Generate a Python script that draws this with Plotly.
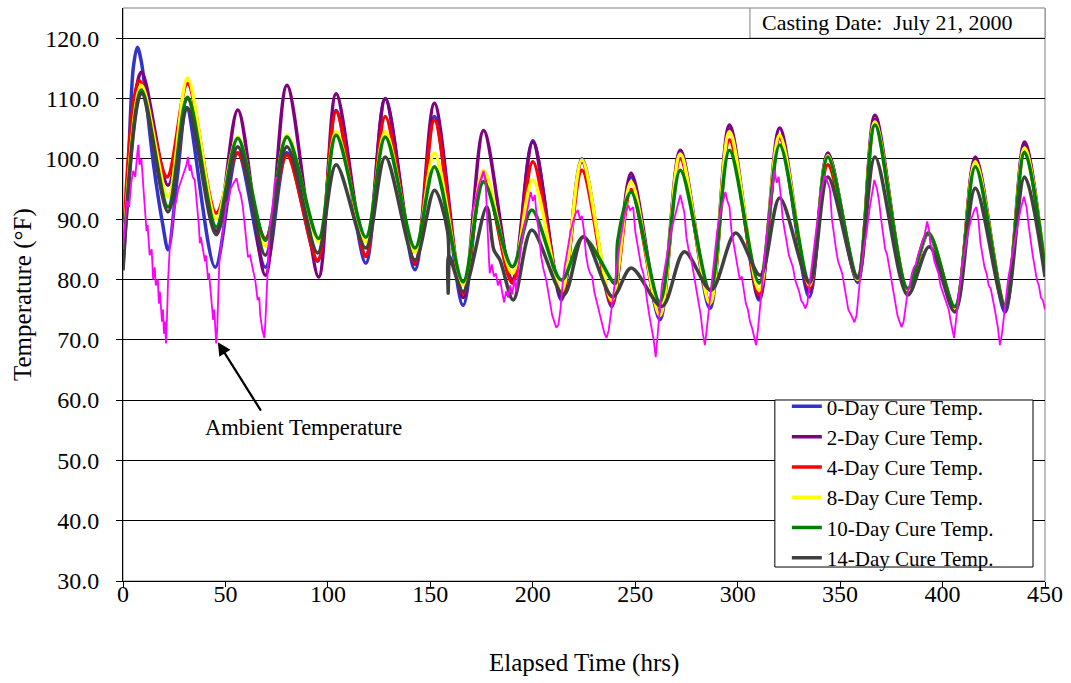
import plotly.graph_objects as go

# ---------------- data ----------------
t_blue = [0, 2.5, 5, 7, 9, 14.8, 19.3, 22, 26.7, 31, 45, 56, 69.5, 80, 95, 104, 118.5, 128, 142.5, 152, 166, 176, 190, 200, 214, 224, 238.5, 248, 262, 272, 286.5, 296, 310.5, 320.5, 335, 344, 358.5, 367, 383, 393, 406, 416, 430.5, 440, 450]
v_blue = [83, 98, 115, 118.5, 116, 99.3, 89.3, 84.9, 97.6, 108.5, 82, 101, 82, 101, 83, 108, 82.7, 110, 81.6, 107, 75.7, 98, 79.5, 103, 76.6, 100, 75.5, 97, 73.3, 101, 75.2, 105, 76.6, 103.5, 77.1, 100.9, 79.5, 106.5, 78, 87.5, 75, 100, 74.6, 102.5, 81]

t_purple = [0, 9, 22, 31.5, 45.5, 56, 69.5, 80, 95.5, 104, 118.5, 128, 142.5, 152, 166, 176, 190, 200, 214, 224, 238.5, 248, 262, 272, 286.5, 296, 310.5, 320.5, 335, 344, 358.5, 367, 383, 393, 406, 416, 430.5, 440, 450]
v_purple = [84, 114.4, 95.6, 110, 88, 108.1, 80.7, 112.2, 80.4, 110.8, 84, 109.9, 82.5, 109.2, 77, 104.7, 80, 102.8, 77, 99.5, 76, 97.6, 74.5, 101.4, 76, 105.6, 77, 105.1, 78, 100.9, 80, 107.2, 78.2, 87.7, 75.2, 100.3, 75.5, 102.8, 81.3]

t_red = [0, 8, 21.5, 31.5, 45.5, 56, 69.5, 80, 95, 104, 118.5, 128, 142.5, 152, 166, 176, 190, 200, 214, 224, 238.5, 248, 262, 272, 286.5, 296, 310.5, 320.5, 335, 344, 358.5, 367, 383, 393, 406, 416, 430.5, 440, 450]
v_red = [85, 113, 97, 112.5, 91, 100.9, 86.8, 100.6, 83.2, 107.8, 83.8, 107, 82.7, 106.4, 77.7, 97.5, 79.4, 99.5, 77.6, 98.1, 76, 94.9, 74, 100, 76, 103.1, 77.5, 103.5, 78.5, 99, 80, 106, 78.2, 87.7, 75.2, 99.5, 75.5, 101.5, 81.5]

t_yellow = [0, 9, 22, 31.5, 45.5, 56, 69.5, 80, 95.5, 104, 118.5, 128, 142.5, 152, 166, 176, 190, 200, 214, 224, 238.5, 248, 262, 272, 286.5, 296, 310.5, 320.5, 335, 344, 358.5, 367, 383, 393, 406, 416, 430.5, 440, 450]
v_yellow = [83, 112.2, 93.7, 113.4, 90, 103.6, 85.5, 103.9, 86.2, 104.5, 86.2, 104.5, 84.5, 100.9, 79.1, 98.1, 81, 96.5, 78, 99.8, 76.5, 96.2, 74, 100.8, 76, 104.5, 78.2, 103.9, 79, 100.5, 80, 106.1, 78.2, 87.7, 75.2, 99.5, 75.5, 101.8, 82]

t_green = [0, 9, 22, 31.5, 45.5, 56, 69.5, 80, 95.5, 104, 118.5, 128, 142.5, 152, 166, 176, 190, 199.5, 214, 224.5, 239.5, 240.5, 241.5, 248, 262, 272, 286.5, 296, 310.5, 320.5, 335, 344, 358.5, 367, 383, 393, 406, 416, 430.5, 440, 450]
v_green = [82, 111.4, 92, 110.2, 88.7, 103.4, 86.5, 103.6, 86.8, 103.9, 87, 103.6, 85.2, 98.7, 79.6, 96.2, 82.1, 91.5, 79.9, 87, 79.4, 79.4, 86.5, 94.5, 76.3, 98.1, 78.2, 101.4, 79.4, 102.3, 79.6, 100.3, 80.5, 105.6, 78.5, 87.7, 75.5, 98.7, 75.8, 101.1, 82]

t_gray = [0, 9, 22, 31.5, 45.5, 56, 69.5, 80, 95, 104, 118.5, 128, 142.5, 152, 158.4, 158.7, 159.0, 166, 177.5, 181, 184, 190.5, 199.5, 215, 224.7, 239, 248, 263, 274, 287, 299, 311, 320.5, 335, 344, 358.5, 367, 383, 393.5, 406, 416, 430.5, 440, 450]
v_gray = [81.5, 110.9, 91.2, 108.4, 87.4, 102, 84, 102, 84.4, 99, 85.2, 100.3, 83.2, 94.8, 88, 77.7, 84, 78, 92, 84.9, 83.2, 76.6, 88.2, 77.4, 87.1, 77.1, 81.9, 75.5, 84.6, 78.2, 87.7, 80.7, 93.5, 79.4, 97, 80.2, 100.3, 77.4, 85.4, 74.6, 95.1, 75.2, 97, 80.4]

# ambient temperature (gap in record between ~75 and ~170 hrs)
t_amb = [0, 1, 2, 3, 4, 5, 6, 7, 7.5, 8, 9, 10, 11, 11.5, 12, 13, 14, 14.7, 15.5, 16, 17, 17.5, 18, 19, 19.5, 20, 20.5, 21, 21.5, 22, 22.8,
         24, 25, 26, 27, 28, 29, 30, 31, 31.7, 32.5, 33, 34, 35, 36, 37, 37.5, 38, 39, 40, 40.5, 41.5, 42, 43, 44, 44.5, 45, 45.5, 46, 47,
         48, 49, 50.5, 51.5, 52.5, 54, 55.4, 56.5, 57.5, 58.5, 59.5, 60.5, 61, 62, 63, 63.5, 64.5, 65.7, 66.5, 67, 68, 69, 69.5, 70.5, 71.5,
         73, 74, 75, 75.5,
         170, 171, 172, 173, 174, 175, 176, 177, 177.5, 178, 178.5, 179, 180, 181, 182, 183, 184, 185, 186, 187, 188, 189, 190, 191, 192,
         193, 194.5, 196, 197.5, 199, 200, 201, 202, 203, 204, 205, 206.5, 207.5, 208.5, 209.5, 210.5, 211.5, 212.5, 213.5, 214.5, 215.5,
         217, 218.5, 220, 221, 222, 223, 224, 225, 226, 227, 228, 229, 230, 231, 232, 233, 234, 235, 236, 237, 238, 239, 240, 241, 242.5,
         244, 245, 246.5, 247.5, 249, 250, 251, 252, 253, 254, 255, 256, 257, 258, 259, 260, 260.5, 261, 262, 263, 264.5, 266, 267.5, 269,
         270.5, 272, 273, 274, 275, 276, 277, 278, 279, 280, 281, 282, 283, 284, 285, 286, 287, 288, 289, 290, 291.5, 293, 294, 295, 296,
         297, 298, 299, 300, 301, 302, 303, 304, 305, 306, 307, 308, 309, 310, 311, 312, 313.5, 315, 316.5, 318, 319, 320, 321, 322, 323,
         324, 325, 326, 327, 328, 329, 330, 331, 332, 333, 334, 335, 336, 337.5, 339, 340.5, 342.5, 344, 345, 346, 347, 348, 349, 350, 351,
         352, 353, 354, 355.5, 357, 358, 359, 360, 361.5, 363, 364.5, 366.7, 368, 369, 370, 371, 372, 373, 374, 375, 376, 377, 378, 379,
         380, 381, 382, 383, 384, 385, 386, 387, 388, 389, 390, 391, 392.5, 393.5, 394, 395, 396, 397, 398, 399, 400, 401, 402, 403, 404,
         405, 405.6, 406.5, 407.5, 408.5, 409.5, 411, 412.5, 414, 415.5, 416.5, 417.5, 418.5, 419.5, 420.5, 421.5, 422.5, 423.5, 424.5,
         425.5, 426.5, 427, 428, 429, 430, 431, 432, 433.5, 435, 436.5, 438, 439.7, 441, 442, 443, 444, 445, 446, 447, 448, 449, 450]
v_amb = [85, 89, 93, 92, 96, 98, 97, 101, 102.3, 99, 100, 95, 91, 88, 89, 84, 85, 80, 82, 79, 80, 76, 78, 73, 75, 71, 73, 69.4, 74, 80, 85,
         89, 92, 93, 95, 96, 97, 98, 99, 100.3, 98, 99, 97, 96.5, 93, 89, 86, 87, 85, 83, 84, 80, 81, 77, 73.3, 75, 71, 69.4, 72, 82.7,
         86, 89, 92.6, 93, 95, 96, 96.8, 95, 94, 92, 89, 85, 83.7, 84, 82, 81.5, 80, 76.6, 77, 74, 71.6, 70.3, 73, 80, 88.2,
         92, 96, 97, None,
         90.5, 92, 93, 95, 96, 97, 98, 96, 92, 86, 84, 81, 82.5, 80.5, 81, 79, 80, 78, 76.2, 78, 77, 79, 77.5, 80, 78,
         82, 86, 89, 92, 94.5, 93, 94, 90, 88, 84, 82, 80, 78, 76, 74, 73, 72, 72.5, 75, 79, 82,
         85, 88, 90, 91, 91.5, 90, 90.5, 88, 84, 82, 81, 80.5, 78, 76.5, 75, 73.8, 72, 71, 70.3, 71.5, 74, 77, 79.4, 82, 86,
         89, 91, 92.3, 91.5, 92, 88, 86, 84, 82, 81, 78, 76, 73.8, 72, 70, 67.1, 69, 72, 76, 79, 82, 85, 88, 90,
         92, 94, 92.5, 91, 87, 85, 84, 82, 80, 78, 76, 74, 71, 69.1, 72, 75, 78, 82, 85, 88, 91, 93, 94.5, 93, 92,
         88, 86, 84, 82, 80, 80.5, 78, 76, 75, 73, 72, 70.5, 69.1, 72, 76, 80, 85, 90, 94, 98.1, 96, 97, 94, 90, 88,
         86, 84, 83, 82, 80, 79, 78, 76.5, 76, 75.2, 76, 79, 82, 86, 90, 94, 97.3, 96, 95, 90, 87, 85, 83, 82, 81,
         79, 77, 75, 74, 72.9, 74, 78, 81, 85, 88, 92, 96.5, 95, 93, 90, 87, 85, 84, 82, 80, 78, 76, 74, 73,
         72.1, 73, 76, 78, 79, 81, 82, 82.5, 84, 85, 86, 87, 89.6, 88, 86, 85, 83, 82, 81, 79, 78, 77, 76, 75, 73,
         71, 70.3, 73, 76, 79, 82, 85, 88, 90, 91.5, 92, 90, 86, 84, 82, 81, 79, 78.5, 77,
         75, 73, 72, 69.1, 71, 74, 77, 80, 83, 86, 89, 91.5, 93.7, 92, 89, 86, 84, 82, 80, 79, 77, 76.5, 75]

series = [
    ("0-Day Cure Temp.", t_blue, v_blue, "#3333CC"),
    ("2-Day Cure Temp.", t_purple, v_purple, "#800080"),
    ("4-Day Cure Temp.", t_red, v_red, "#FF0000"),
    ("8-Day Cure Temp.", t_yellow, v_yellow, "#FFFF00"),
    ("10-Day Cure Temp.", t_green, v_green, "#008000"),
    ("14-Day Cure Temp.", t_gray, v_gray, "#404040"),
]

x_ticks = [0, 50, 100, 150, 200, 250, 300, 350, 400, 450]
y_ticks = [30, 40, 50, 60, 70, 80, 90, 100, 110, 120]

FONT = "Liberation Serif"

fig = go.Figure()
for name, t, v, c in series:
    fig.add_trace(go.Scatter(x=t, y=v, mode="lines", name=name,
                             line=dict(color=c, width=3.5, shape="spline", smoothing=0.9)))
fig.add_trace(go.Scatter(x=t_amb, y=v_amb, mode="lines", name="Ambient Temperature",
                         showlegend=False, connectgaps=False,
                         line=dict(color="#FF00FF", width=1.8)))

fig.update_layout(
    width=1071, height=683,
    margin=dict(l=123, r=23, t=8, b=102),
    paper_bgcolor="white", plot_bgcolor="white",
    font=dict(family=FONT, color="black"),
    showlegend=True,
    legend=dict(x=0.72, y=0.34, xanchor="left", yanchor="top",
                bgcolor="rgba(0,0,0,0)", borderwidth=0,
                font=dict(family=FONT, size=21, color="black"),
                tracegroupgap=0, itemwidth=30),
    xaxis=dict(range=[0, 450], tickvals=x_ticks, ticks="outside", ticklen=5,
               tickcolor="black", showline=True, linecolor="black", linewidth=1,
               showgrid=False, zeroline=False, ticklabelstandoff=-14,
               tickfont=dict(family=FONT, size=24)),
    yaxis=dict(range=[30, 125], tickvals=y_ticks, tickformat=".1f", ticks="outside",
               ticklen=6, tickcolor="black", showline=True, linecolor="black", linewidth=1,
               showgrid=True, gridcolor="black", gridwidth=1, zeroline=False,
               ticklabelstandoff=12, tickfont=dict(family=FONT, size=24)),
    shapes=[
        dict(type="rect", xref="paper", yref="paper", x0=0, x1=1, y0=0, y1=1,
             line=dict(color="#808080", width=1), layer="below"),
        dict(type="rect", xref="paper", yref="y", x0=0.68, x1=1, y0=120, y1=125,
             line=dict(color="#808080", width=1), fillcolor="white", layer="below"),
        dict(type="rect", xref="paper", yref="paper", x0=0.707, x1=0.987, y0=0.0244, y1=0.3159,
             line=dict(color="black", width=1), fillcolor="white", layer="above"),
    ],
    annotations=[
        dict(text="Casting Date:  July 21, 2000", xref="paper", yref="y", x=0.9676, y=122.6,
             xanchor="right", yanchor="middle", showarrow=False,
             font=dict(family=FONT, size=22, color="black")),
        dict(text="Ambient Temperature", xref="x", yref="y", x=88, y=55.4,
             xanchor="center", yanchor="middle", showarrow=False,
             font=dict(family=FONT, size=22.5, color="black")),
        dict(text="", xref="x", yref="y", x=46.3, y=69.6, ax=44, ay=70,
             showarrow=True, arrowhead=2, arrowsize=1.2, arrowwidth=2.2, arrowcolor="black"),
        dict(text="Elapsed Time (hrs)", xref="paper", yref="paper", x=0.5, y=-0.143,
             xanchor="center", yanchor="middle", showarrow=False,
             font=dict(family=FONT, size=25, color="black")),
        dict(text="Temperature (°F)", xref="paper", yref="paper", x=-0.109, y=0.5,
             xanchor="center", yanchor="middle", textangle=-90, showarrow=False,
             font=dict(family=FONT, size=25, color="black")),
    ],
)

fig.write_html("out.html")
